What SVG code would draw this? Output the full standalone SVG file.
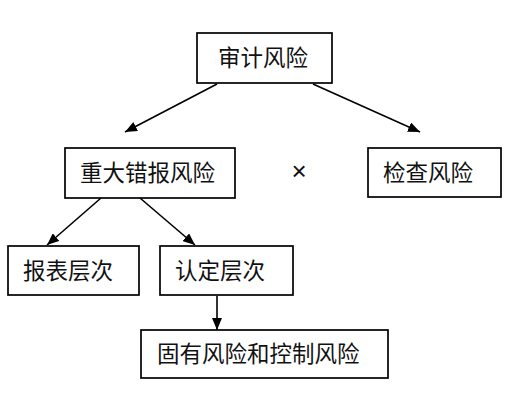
<svg xmlns="http://www.w3.org/2000/svg" width="516" height="412" viewBox="0 0 516 412">
<defs>
<marker id="ah" viewBox="0 0 12 10" refX="12" refY="5" markerWidth="12" markerHeight="10" markerUnits="userSpaceOnUse" orient="auto">
<path d="M0,0 L12,5 L0,10 Z" fill="#000"/>
</marker>
<style>
.box{fill:#fff;stroke:#000;stroke-width:1.7}
.t{font-family:"Noto Sans CJK SC","Noto Sans",sans-serif;font-size:22.5px;fill:#111}
.c{stroke:#000;stroke-width:1.6;fill:none;marker-end:url(#ah)}
</style>
</defs>
<rect width="516" height="412" fill="#fff"/>
<g id="connectors">
<line class="c" x1="217" y1="84" x2="125" y2="132"/>
<line class="c" x1="313" y1="84" x2="420" y2="132"/>
<line class="c" x1="101" y1="198" x2="47" y2="245"/>
<line class="c" x1="140" y1="198" x2="195" y2="245"/>
<line class="c" x1="217" y1="296" x2="217" y2="330"/>
</g>
<g id="n1"><rect class="box" x="197" y="33" width="135" height="50"/><text class="t" x="218" y="66">审计风险</text></g>
<g id="n2"><rect class="box" x="65" y="148" width="170" height="50"/><text class="t" x="80" y="181">重大错报风险</text></g>
<g id="times"><text x="299" y="180" font-family="Liberation Sans, sans-serif" font-size="26" text-anchor="middle" fill="#111">×</text></g>
<g id="n3"><rect class="box" x="368" y="148" width="133" height="49"/><text class="t" x="383" y="181">检查风险</text></g>
<g id="n4"><rect class="box" x="8" y="246" width="131" height="49"/><text class="t" x="23" y="279">报表层次</text></g>
<g id="n5"><rect class="box" x="160" y="246" width="133" height="49"/><text class="t" x="175" y="279">认定层次</text></g>
<g id="n6"><rect class="box" x="141" y="330" width="247" height="48"/><text class="t" x="157" y="362">固有风险和控制风险</text></g>
</svg>
